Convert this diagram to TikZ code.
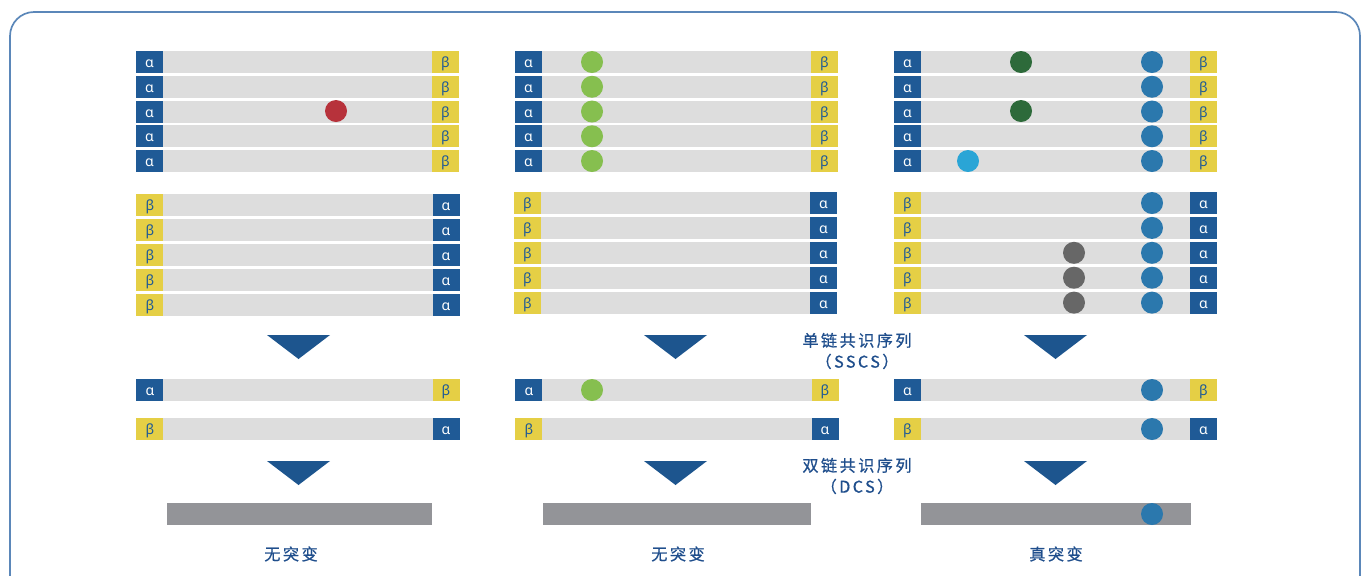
\documentclass[tikz,border=0pt]{standalone}
\usepackage{fontspec}
\setmainfont{Noto Sans}
\newfontfamily\cjk{Noto Sans CJK SC}[LetterSpace=15, FakeBold=0.8]
\usetikzlibrary{calc}
\definecolor{tagblue}{HTML}{1F5A96}
\definecolor{tagyellow}{HTML}{E5CF45}
\definecolor{readgray}{HTML}{DDDDDD}
\definecolor{dcsgray}{HTML}{939498}
\definecolor{textblue}{HTML}{1F4E8C}
\definecolor{framblue}{HTML}{5B87B9}
\definecolor{mutred}{HTML}{B7323B}
\definecolor{mutgreen}{HTML}{86BF4F}
\definecolor{mutdkgreen}{HTML}{2D6A3A}
\definecolor{mutblue}{HTML}{2B78AD}
\definecolor{mutcyan}{HTML}{2AA5D6}
\definecolor{mutgray}{HTML}{676767}
\tikzset{ strand/.style = { rectangle % one read
        , fill = readgray
        , minimum width = 8.075cm
        , minimum height = 0.55cm
        , inner sep = 0pt
        }
        , atag/.style = { rectangle % alpha adapter
        , fill = tagblue
        , minimum width = 0.675cm
        , minimum height = 0.55cm
        , inner sep = 0pt
        , text height = 8pt
        , text depth = 0pt
        , font = \color{white}\fontsize{10}{12}\selectfont
        }
        , btag/.style = { rectangle % beta adapter
        , fill = tagyellow
        , minimum width = 0.675cm
        , minimum height = 0.55cm
        , inner sep = 0pt
        , text height = 8pt
        , text depth = 0pt
        , font = \color{tagblue}\fontsize{10}{12}\selectfont
        }
        }

\begin{document}
\begin{tikzpicture}[x=0.025cm, y=-0.025cm,
        dot/.style={circle,minimum size=0.55cm,inner sep=0pt},
        dcs_style/.style={rectangle,fill=dcsgray,minimum width=6.7cm,minimum height=0.55cm,inner sep=0pt},
        caption_style/.style={align=center,text=textblue,font=\cjk\fontsize{11.5}{15}\selectfont},
        pointer_style/.style={fill=tagblue!95!black}]
        \useasboundingbox (0,0) rectangle (1361,575);
        \draw [framblue, line width=1.2pt, rounded corners=0.6cm] (10,12) rectangle (1360,600);

        % top strands: alpha ... beta
        \foreach \cx/\c in {297.5/a, 676.5/b, 1055.5/c} {
            \foreach \i in {1,...,5} {
                \node [strand] (top\c\i) at (\cx, {62+24.75*(\i-1)}) {};
                \node [atag, anchor=west] (topa\c\i) at (top\c\i.west) {α};
                \node [btag, anchor=east] (topb\c\i) at (top\c\i.east) {β};
            }
        }
        % bottom strands: beta ... alpha
        \foreach \cx/\cy/\c in {298/205/a, 675.5/203/b, 1055.5/203/c} {
            \foreach \i in {1,...,5} {
                \node [strand] (bot\c\i) at (\cx, {\cy+24.9*(\i-1)}) {};
                \node [btag, anchor=west] (botb\c\i) at (bot\c\i.west) {β};
                \node [atag, anchor=east] (bota\c\i) at (bot\c\i.east) {α};
            }
        }
        % single strand consensus
        \foreach \cx/\c in {298/a, 677/b, 1055.5/c} {
            \node [strand] (ss\c1) at (\cx,390) {};
            \node [atag, anchor=west] (ssa\c1) at (ss\c1.west) {α};
            \node [btag, anchor=east] (ssb\c1) at (ss\c1.east) {β};
            \node [strand] (ss\c2) at (\cx,429) {};
            \node [btag, anchor=west] (ssb\c2) at (ss\c2.west) {β};
            \node [atag, anchor=east] (ssa\c2) at (ss\c2.east) {α};
        }
        % duplex consensus
        \node [dcs_style, minimum width=6.625cm] (dcsa) at (299.5,514) {};
        \node [dcs_style] (dcsb) at (677,514) {};
        \node [dcs_style, minimum width=6.75cm] (dcsc) at (1056,514) {};

        % mutations
        \node [dot, fill=mutred] (m1) at (336,111) {};
        \foreach \i in {1,...,5} {
            \node [dot, fill=mutgreen] (g\i) at (592, {62+24.75*(\i-1)}) {};
            \node [dot, fill=mutblue] (tb\i) at (1152, {62+24.75*(\i-1)}) {};
            \node [dot, fill=mutblue] (bb\i) at (1152, {203+24.9*(\i-1)}) {};
        }
        \node [dot, fill=mutdkgreen] (k1) at (1021,62) {};
        \node [dot, fill=mutdkgreen] (k3) at (1021,111) {};
        \node [dot, fill=mutcyan] (c5) at (968,161) {};
        \foreach \i in {3,4,5}
            \node [dot, fill=mutgray] (r\i) at (1074, {203+24.9*(\i-1)}) {};
        \node [dot, fill=mutgreen] (gs) at (592,390) {};
        \node [dot, fill=mutblue] (bs1) at (1152,390) {};
        \node [dot, fill=mutblue] (bs2) at (1152,429) {};
        \node [dot, fill=mutblue] (bd) at (1152,514) {};

        % arrows down
        \foreach \cx in {298.5, 675.5, 1055.5}
            \foreach \ty in {335, 461}
                \fill [pointer_style] (\cx-31.5,\ty) -- (\cx+31.5,\ty) -- (\cx,\ty+24) -- cycle;

        \node [caption_style] (sscs) at (857,351) {单链共识序列\\（SSCS）};
        \node [caption_style] (dcs) at (857,476) {双链共识序列\\（DCS）};
        \node [caption_style] (res1) at (291,554) {无突变};
        \node [caption_style] (res2) at (678,554) {无突变};
        \node [caption_style] (res3) at (1056,554) {真突变};
        \end{tikzpicture}
\end{document}
